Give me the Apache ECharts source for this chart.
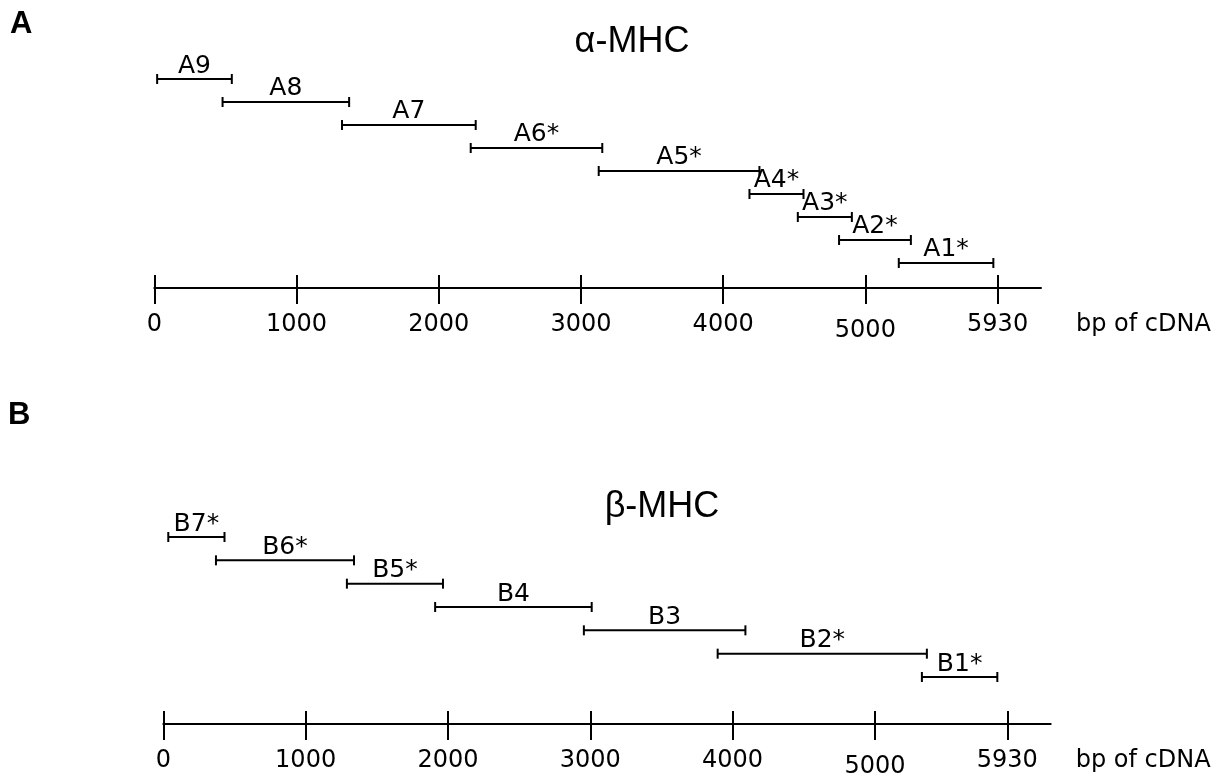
<!DOCTYPE html>
<html>
<head>
<meta charset="utf-8">
<script src="https://cdn.jsdelivr.net/npm/echarts@6/dist/echarts.min.js"></script>
<style>
html,body{margin:0;padding:0;background:#fff;}
#chart{width:1231px;height:773px;}
</style>
</head>
<body>
<div id="chart"></div>
<script>
// ---- data (bp of cDNA) ----
const aNames = ['A9', 'A8', 'A7', 'A6*', 'A5*', 'A4*', 'A3*', 'A2*', 'A1*'];
const aStart = [20, 480, 1320, 2225, 3125, 4185, 4525, 4815, 5235];
const aEnd   = [545, 1370, 2260, 3150, 4255, 4565, 4905, 5320, 5900];

const bNames = ['B7*', 'B6*', 'B5*', 'B4', 'B3', 'B2*', 'B1*'];
const bStart = [35, 370, 1290, 1910, 2955, 3895, 5330];
const bEnd   = [430, 1340, 1965, 3010, 4090, 5365, 5860];

const tickValues = [0, 1000, 2000, 3000, 4000, 5000, 5930];
const axisMax = 6235;
const axisName = 'bp of cDNA';
const titleA = 'α-MHC';
const titleB = 'β-MHC';

const FONT = 'DejaVu Sans';

function rows(starts, ends) {
  const n = starts.length;
  return starts.map((s, i) => [s, ends[i], n - 1 - i]);
}

function makeRender(names) {
  return function (params, api) {
    const r = api.value(2);
    const p0 = api.coord([api.value(0), r]);
    const p1 = api.coord([api.value(1), r]);
    const st = { stroke: '#000', lineWidth: 2 };
    return {
      type: 'group',
      children: [
        { type: 'line', shape: { x1: p0[0], y1: p0[1], x2: p1[0], y2: p1[1] }, style: st },
        { type: 'line', shape: { x1: p0[0], y1: p0[1] - 5, x2: p0[0], y2: p0[1] + 5 }, style: st },
        { type: 'line', shape: { x1: p1[0], y1: p1[1] - 5, x2: p1[0], y2: p1[1] + 5 }, style: st },
        { type: 'text', x: (p0[0] + p1[0]) / 2, y: p0[1] - 13,
          style: { text: names[params.dataIndex], fontSize: 25, fontFamily: FONT, fill: '#000',
                   align: 'center', verticalAlign: 'middle' } }
      ]
    };
  };
}

function mainX(gridIndex, gap) {
  return {
    type: 'value', gridIndex: gridIndex, position: 'bottom', min: 0, max: axisMax,
    axisLine: { show: true, onZero: false, lineStyle: { color: '#000', width: 2 } },
    axisTick: { show: true, customValues: tickValues, length: 16, lineStyle: { color: '#000', width: 2 } },
    axisLabel: {
      show: true, customValues: tickValues, margin: 25, color: '#000',
      fontSize: 24, fontFamily: FONT,
      formatter: v => (v === 5000 ? '{low|' + v + '}' : '{n|' + v + '}'),
      rich: {
        n: { fontSize: 24, fontFamily: FONT, color: '#000' },
        low: { fontSize: 24, fontFamily: FONT, color: '#000', padding: [6, 0, 0, 0] }
      }
    },
    splitLine: { show: false },
    name: axisName, nameLocation: 'end', nameGap: gap,
    nameTextStyle: { fontSize: 24, fontFamily: FONT, color: '#000', align: 'left',
                     verticalAlign: 'top', padding: [25, 0, 0, 0] }
  };
}
function innerX(gridIndex) {
  return {
    type: 'value', gridIndex: gridIndex, position: 'bottom', min: 0, max: axisMax,
    axisLine: { show: false, onZero: false },
    axisTick: { show: true, inside: true, customValues: tickValues, length: 13, lineStyle: { color: '#000', width: 2 } },
    axisLabel: { show: false },
    splitLine: { show: false }
  };
}

const chart = echarts.init(document.getElementById('chart'), null, { renderer: 'canvas' });
chart.setOption({
  backgroundColor: '#fff',
  animation: false,
  grid: [
    { left: 154.3, top: 79, width: 886.7, height: 209, containLabel: false, outerBoundsMode: 'none' },
    { left: 163.3, top: 537, width: 887.4, height: 187, containLabel: false, outerBoundsMode: 'none' }
  ],
  xAxis: [mainX(0, 35), innerX(0), mainX(1, 25), innerX(1)],
  yAxis: [
    { type: 'value', gridIndex: 0, min: -1.087, max: 8, show: false },
    { type: 'value', gridIndex: 1, min: -2.014, max: 6, show: false }
  ],
  graphic: [
    { type: 'text', x: 10, y: 24, style: { text: 'A', fontSize: 31, fontWeight: 'bold', fontFamily: 'Liberation Sans', fill: '#000', align: 'left', verticalAlign: 'middle' } },
    { type: 'text', x: 8, y: 415, style: { text: 'B', fontSize: 31, fontWeight: 'bold', fontFamily: 'Liberation Sans', fill: '#000', align: 'left', verticalAlign: 'middle' } },
    { type: 'text', x: 632, y: 42, style: { text: titleA, fontSize: 36, fontFamily: 'Liberation Sans', fill: '#000', align: 'center', verticalAlign: 'middle' } },
    { type: 'text', x: 662, y: 507, style: { text: titleB, fontSize: 36, fontFamily: 'Liberation Sans', fill: '#000', align: 'center', verticalAlign: 'middle' } }
  ],
  series: [
    { type: 'custom', xAxisIndex: 0, yAxisIndex: 0, clip: false, silent: true,
      encode: { x: [0, 1], y: 2 }, renderItem: makeRender(aNames), data: rows(aStart, aEnd) },
    { type: 'custom', xAxisIndex: 2, yAxisIndex: 1, clip: false, silent: true,
      encode: { x: [0, 1], y: 2 }, renderItem: makeRender(bNames), data: rows(bStart, bEnd) }
  ]
});
</script>
</body>
</html>
